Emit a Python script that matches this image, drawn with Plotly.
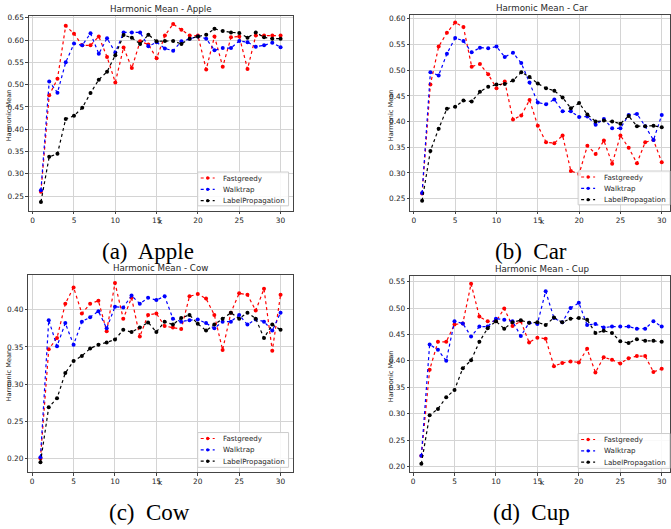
import plotly.graph_objects as go

K = list(range(1, 31))
SERIES = ["Fastgreedy", "Walktrap", "LabelPropagation"]
COLORS = ["red", "blue", "black"]

fg_apple = [0.26, 0.476, 0.513, 0.632, 0.614, 0.588, 0.588, 0.608, 0.562, 0.505, 0.583, 0.537, 0.597, 0.59, 0.559,
            0.61, 0.636, 0.623, 0.61, 0.61, 0.534, 0.608, 0.54, 0.606, 0.608, 0.535, 0.61, 0.61, 0.61, 0.61]
wt_apple = [0.263, 0.507, 0.482, 0.55, 0.592, 0.588, 0.615, 0.569, 0.604, 0.572, 0.617, 0.617, 0.617, 0.586, 0.595,
            0.581, 0.576, 0.597, 0.603, 0.608, 0.603, 0.577, 0.582, 0.582, 0.598, 0.595, 0.585, 0.588, 0.594, 0.584]
lp_apple = [0.237, 0.338, 0.345, 0.423, 0.43, 0.448, 0.481, 0.511, 0.529, 0.566, 0.611, 0.605, 0.591, 0.612, 0.597,
            0.598, 0.598, 0.591, 0.603, 0.608, 0.612, 0.625, 0.62, 0.617, 0.616, 0.605, 0.617, 0.606, 0.603, 0.603]

fg_car = [0.26, 0.472, 0.546, 0.573, 0.593, 0.584, 0.507, 0.512, 0.492, 0.465, 0.478, 0.404, 0.412, 0.442, 0.392,
          0.36, 0.358, 0.373, 0.304, 0.298, 0.353, 0.337, 0.363, 0.318, 0.373, 0.349, 0.319, 0.36, 0.364, 0.321]
wt_car = [0.261, 0.496, 0.49, 0.532, 0.563, 0.557, 0.535, 0.544, 0.543, 0.546, 0.526, 0.534, 0.514, 0.476, 0.437,
          0.434, 0.443, 0.42, 0.42, 0.409, 0.41, 0.394, 0.405, 0.387, 0.387, 0.413, 0.415, 0.391, 0.364, 0.413]
lp_car = [0.246, 0.343, 0.386, 0.425, 0.429, 0.441, 0.439, 0.458, 0.468, 0.472, 0.473, 0.48, 0.496, 0.487, 0.474,
          0.465, 0.46, 0.447, 0.426, 0.436, 0.414, 0.4, 0.402, 0.4, 0.396, 0.411, 0.391, 0.391, 0.392, 0.389]

fg_cow = [0.20, 0.347, 0.362, 0.408, 0.43, 0.395, 0.408, 0.412, 0.371, 0.436, 0.388, 0.416, 0.364, 0.393, 0.395,
          0.378, 0.376, 0.374, 0.418, 0.421, 0.415, 0.393, 0.346, 0.396, 0.422, 0.42, 0.399, 0.428, 0.345, 0.42]
wt_cow = [0.202, 0.386, 0.351, 0.382, 0.353, 0.384, 0.39, 0.398, 0.375, 0.404, 0.403, 0.419, 0.408, 0.416, 0.413,
          0.418, 0.388, 0.384, 0.386, 0.387, 0.382, 0.375, 0.384, 0.384, 0.393, 0.38, 0.387, 0.384, 0.372, 0.396]
lp_cow = [0.195, 0.269, 0.281, 0.315, 0.331, 0.338, 0.348, 0.353, 0.356, 0.36, 0.373, 0.37, 0.376, 0.383, 0.37,
          0.384, 0.38, 0.389, 0.393, 0.381, 0.372, 0.38, 0.388, 0.396, 0.388, 0.396, 0.388, 0.362, 0.38, 0.373]

fg_cup = [0.22, 0.383, 0.436, 0.436, 0.469, 0.471, 0.546, 0.484, 0.475, 0.475, 0.499, 0.466, 0.475, 0.435, 0.444,
          0.442, 0.39, 0.396, 0.399, 0.397, 0.423, 0.378, 0.407, 0.402, 0.395, 0.405, 0.409, 0.409, 0.379, 0.385]
wt_cup = [0.22, 0.431, 0.421, 0.4, 0.475, 0.471, 0.446, 0.465, 0.465, 0.48, 0.478, 0.475, 0.447, 0.472, 0.47,
          0.532, 0.481, 0.473, 0.5, 0.51, 0.468, 0.47, 0.463, 0.465, 0.465, 0.465, 0.461, 0.461, 0.475, 0.465]
lp_cup = [0.205, 0.297, 0.309, 0.331, 0.345, 0.386, 0.401, 0.436, 0.462, 0.475, 0.461, 0.473, 0.477, 0.472, 0.473,
          0.468, 0.482, 0.473, 0.48, 0.481, 0.478, 0.453, 0.457, 0.453, 0.437, 0.434, 0.441, 0.438, 0.438, 0.436]

TITLES = ["Harmonic Mean - Apple", "Harmonic Mean - Car", "Harmonic Mean - Cow", "Harmonic Mean - Cup"]
CAPTIONS = ["(a)  Apple", "(b)  Car", "(c)  Cow", "(d)  Cup"]
DATA = [(fg_apple, wt_apple, lp_apple), (fg_car, wt_car, lp_car),
        (fg_cow, wt_cow, lp_cow), (fg_cup, wt_cup, lp_cup)]

W, H = 671, 529
def px(x):
    return x / W
def py(y):
    return 1 - y / H

# panel layout in pixels: (left, top, right, bottom), x range, y range
PANELS = [
    dict(box=(29, 13, 293, 209), xr=[-0.45, 31.45], yr=[0.217, 0.654], ylab_x=9, leg=(198, 170, 289, 204)),
    dict(box=(411, 12, 671, 209), xr=[-0.42, 31.0], yr=[0.2263, 0.6077], ylab_x=391, leg=(579, 169, 671, 203)),
    dict(box=(28.5, 273.5, 293, 471.7), xr=[-0.45, 31.45], yr=[0.182, 0.4467], ylab_x=9, leg=(198, 432, 289, 467)),
    dict(box=(410.7, 274.3, 671, 471.7), xr=[-0.36, 31.0], yr=[0.1894, 0.5613], ylab_x=391, leg=(579, 433, 671, 468)),
]
CAP_POS = [(148, 250), (532, 250), (150, 512), (532, 512)]

FONT = "DejaVu Sans"
TXT = "#262626"
fig = go.Figure()
layout = dict(width=W, height=H, margin=dict(l=0, r=0, t=0, b=0), paper_bgcolor="white",
              plot_bgcolor="white", showlegend=False)
annotations = []
shapes = []

for i, (p, data) in enumerate(zip(PANELS, DATA)):
    n = "" if i == 0 else str(i + 1)
    l, t, r, b = p["box"]
    axis_common = dict(showline=True, mirror=True, linecolor="#444", linewidth=1,
                       ticks="outside", ticklen=2.5, tickcolor="#444", tickwidth=1,
                       showgrid=True, gridcolor="#d4d4d4", gridwidth=1.2, zeroline=False,
                       tickfont=dict(family=FONT, size=7.4, color=TXT))
    layout["xaxis" + n] = dict(domain=[px(l), px(r)], anchor="y" + n, range=p["xr"],
                               tickvals=[0, 5, 10, 15, 20, 25, 30], **axis_common)
    layout["yaxis" + n] = dict(domain=[py(b), py(t)], anchor="x" + n, range=p["yr"],
                               dtick=0.05, tick0=0, tickformat=".2f", **axis_common)
    for s, vals in enumerate(data):
        fig.add_trace(go.Scatter(x=K, y=vals, mode="lines+markers", name=SERIES[s],
                                 line=dict(color=COLORS[s], width=1.2, dash="dot"),
                                 marker=dict(color=COLORS[s], size=4),
                                 xaxis="x" + n, yaxis="y" + n))
    # title
    cx_axis = l + (r - l) / 2 if i in (0, 2) else 543
    annotations.append(dict(x=px(cx_axis), y=py(t - 7), xref="paper", yref="paper", text=TITLES[i],
                            showarrow=False, font=dict(family=FONT, size=8.7, color=TXT),
                            xanchor="center", yanchor="middle"))
    # x label
    annotations.append(dict(x=px(cx_axis), y=py(b + 11), xref="paper", yref="paper", text="k",
                            showarrow=False, font=dict(family=FONT, size=7.4, color=TXT),
                            xanchor="center", yanchor="middle"))
    # y label
    annotations.append(dict(x=px(p["ylab_x"]), y=py((t + b) / 2 + 2), xref="paper", yref="paper",
                            text="Harmonic Mean", textangle=-90, showarrow=False,
                            font=dict(family=FONT, size=6.6, color=TXT), xanchor="center", yanchor="middle"))
    # caption
    cx, cy = CAP_POS[i]
    annotations.append(dict(x=px(cx), y=py(cy), xref="paper", yref="paper", text=CAPTIONS[i],
                            showarrow=False, font=dict(family="Liberation Serif", size=23, color="black"),
                            xanchor="center", yanchor="middle"))
    # legend box
    lx0, ly0, lx1, ly1 = p["leg"]
    shapes.append(dict(type="rect", xref="paper", yref="paper", x0=px(lx0), x1=px(lx1), y0=py(ly1), y1=py(ly0),
                       line=dict(color="#cccccc", width=1), fillcolor="rgba(255,255,255,0.85)", layer="above"))
    for s in range(3):
        ry = ly0 + 6 + s * 11.4
        sx0, sx1 = lx0 + 3, lx0 + 17
        shapes.append(dict(type="line", xref="paper", yref="paper", x0=px(sx0), x1=px(sx1), y0=py(ry), y1=py(ry),
                           line=dict(color=COLORS[s], width=1.2, dash="dot"), layer="above"))
        mx = (sx0 + sx1) / 2
        shapes.append(dict(type="circle", xref="paper", yref="paper", x0=px(mx - 1.7), x1=px(mx + 1.7),
                           y0=py(ry + 1.7), y1=py(ry - 1.7), fillcolor=COLORS[s],
                           line=dict(color=COLORS[s], width=0), layer="above"))
        annotations.append(dict(x=px(lx0 + 23.5), y=py(ry), xref="paper", yref="paper", text=SERIES[s],
                                showarrow=False, font=dict(family=FONT, size=7.1, color=TXT),
                                xanchor="left", yanchor="middle"))

layout["annotations"] = annotations
layout["shapes"] = shapes
fig.update_layout(**layout)
fig.write_html("out.html", config={"displayModeBar": False},
               post_script="document.body.style.margin='0';document.body.style.overflow='hidden';")
